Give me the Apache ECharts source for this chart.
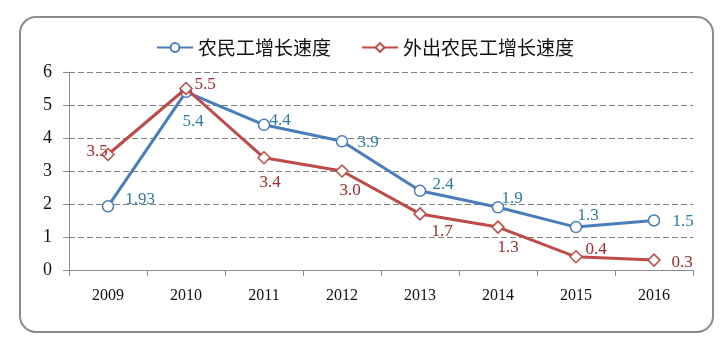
<!DOCTYPE html>
<html>
<head>
<meta charset="utf-8">
<script src="https://cdn.jsdelivr.net/npm/echarts@6/dist/echarts.min.js"></script>
<style>
  html, body { margin: 0; padding: 0; background: #fff; }
  #chart { width: 720px; height: 340px; }
</style>
</head>
<body>
<div id="chart"></div>
<script>
// Years on the category axis
const years = ['2009', '2010', '2011', '2012', '2013', '2014', '2015', '2016'];
// Growth rate of all migrant workers (%)
const migrantGrowth = [1.93, 5.4, 4.4, 3.9, 2.4, 1.9, 1.3, 1.5];
// Growth rate of migrant workers working outside their home area (%)
const outboundGrowth = [3.5, 5.5, 3.4, 3.0, 1.7, 1.3, 0.4, 0.3];
// Value label texts
const migrantLabels = ['1.93', '5.4', '4.4', '3.9', '2.4', '1.9', '1.3', '1.5'];
const outboundLabels = ['3.5', '5.5', '3.4', '3.0', '1.7', '1.3', '0.4', '0.3'];
const seriesNames = ['农民工增长速度', '外出农民工增长速度'];

// Label offsets from each point, in pixels
const migrantOffsets = [[32, -7], [7, 30], [16, -4], [26, 1], [23, -6], [14, -9], [12, -12], [29, 1]];
const outboundOffsets = [[-11, -3], [19, -4], [6, 25], [8, 20], [22, 18], [10, 20], [20, -7], [28, 2]];

const BLUE = '#4a7ebb';
const RED = '#be4b48';
const BLUE_TEXT = '#2e7ba0';
const RED_TEXT = '#a52a2f';
const SERIF = '"Liberation Serif", "DejaVu Serif", serif';
const CJK = '"Noto Sans CJK SC", "Noto Sans", sans-serif';

function buildData(values, labels, offsets, color) {
  return values.map((v, i) => ({
    value: v,
    label: {
      show: true,
      position: 'inside',
      offset: offsets[i],
      align: 'center',
      verticalAlign: 'middle',
      formatter: labels[i],
      color: color,
      fontFamily: SERIF,
      fontSize: 17
    }
  }));
}

const chart = echarts.init(document.getElementById('chart'), null, { renderer: 'canvas' });

chart.setOption({
  animation: false,
  backgroundColor: '#fff',
  graphic: [{
    type: 'rect',
    shape: { x: 20, y: 17, width: 693, height: 315, r: 16 },
    style: { fill: 'none', stroke: '#8c8c8c', lineWidth: 2 },
    z: -1
  }],
  legend: {
    top: 33,
    left: 151,
    itemWidth: 36,
    itemHeight: 11,
    itemGap: 30,
    textStyle: { fontFamily: CJK, fontSize: 19, color: '#111' },
    data: seriesNames
  },
  grid: { left: 69, right: 27, top: 72, bottom: 70 },
  xAxis: {
    type: 'category',
    data: years,
    boundaryGap: true,
    axisLine: { lineStyle: { color: '#8c8c8c', width: 1 } },
    axisTick: { show: true, length: 6, alignWithLabel: false, lineStyle: { color: '#8c8c8c' } },
    axisLabel: { margin: 18, fontFamily: SERIF, fontSize: 16, color: '#111' }
  },
  yAxis: {
    type: 'value',
    min: 0,
    max: 6,
    interval: 1,
    axisLine: { show: true, lineStyle: { color: '#8c8c8c', width: 1 } },
    axisTick: { show: true, length: 6, lineStyle: { color: '#8c8c8c' } },
    axisLabel: { margin: 17, fontFamily: SERIF, fontSize: 18, color: '#111' },
    splitLine: { show: true, lineStyle: { color: '#7f7f7f', type: [6, 3], width: 1 } }
  },
  series: [
    {
      name: seriesNames[0],
      type: 'line',
      data: buildData(migrantGrowth, migrantLabels, migrantOffsets, BLUE_TEXT),
      symbol: 'circle',
      symbolSize: 11,
      lineStyle: { color: BLUE, width: 3 },
      itemStyle: { color: '#fff', borderColor: BLUE, borderWidth: 1.5 },
      z: 3
    },
    {
      name: seriesNames[1],
      type: 'line',
      data: buildData(outboundGrowth, outboundLabels, outboundOffsets, RED_TEXT),
      symbol: 'diamond',
      symbolSize: 12,
      lineStyle: { color: RED, width: 3 },
      itemStyle: { color: '#fff', borderColor: RED, borderWidth: 1.5 },
      z: 4
    }
  ]
});
</script>
</body>
</html>
